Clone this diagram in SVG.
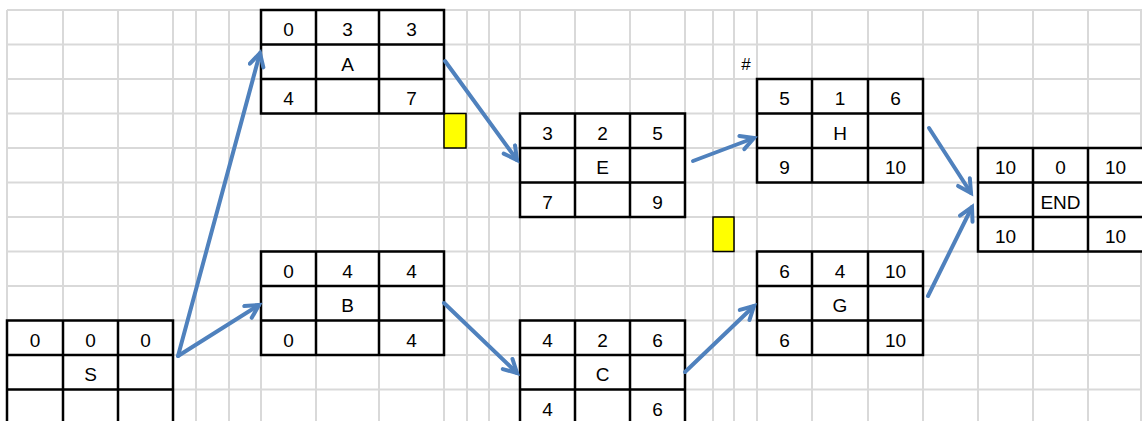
<svg xmlns="http://www.w3.org/2000/svg" width="1142" height="421" viewBox="0 0 1142 421">
<style>
.grid line{stroke:#d9d9d9;stroke-width:2}
.cell{fill:#ffffff;stroke:#000000;stroke-width:2.5}
.div{stroke:#000000;stroke-width:2.5;fill:none}
.t{font-family:"Liberation Sans",Arial,sans-serif;font-size:19px;fill:#000000;text-anchor:middle}
.hl{fill:#ffff00;stroke:#000000;stroke-width:1.5}
.arrow{stroke:#4f81bd;stroke-width:4;fill:none;stroke-linecap:round;marker-end:url(#ah)}
</style>
<defs>
<marker id="ah" markerUnits="userSpaceOnUse" markerWidth="22" markerHeight="22" refX="16" refY="9" orient="auto">
<path d="M3,2 L16,9 L3,16" fill="none" stroke="#4f81bd" stroke-width="4" stroke-linecap="round" stroke-linejoin="miter"/>
</marker>
</defs>
<rect x="0" y="0" width="1142" height="421" fill="#ffffff"/>
<g id="grid" class="grid">
<line x1="7" y1="10" x2="1142" y2="10"/>
<line x1="7" y1="44.5" x2="1142" y2="44.5"/>
<line x1="7" y1="79" x2="1142" y2="79"/>
<line x1="7" y1="113.5" x2="1142" y2="113.5"/>
<line x1="7" y1="148" x2="1142" y2="148"/>
<line x1="7" y1="182.5" x2="1142" y2="182.5"/>
<line x1="7" y1="217" x2="1142" y2="217"/>
<line x1="7" y1="251.5" x2="1142" y2="251.5"/>
<line x1="7" y1="286" x2="1142" y2="286"/>
<line x1="7" y1="320.5" x2="1142" y2="320.5"/>
<line x1="7" y1="355" x2="1142" y2="355"/>
<line x1="7" y1="389.5" x2="1142" y2="389.5"/>
<line x1="7" y1="10" x2="7" y2="421"/>
<line x1="63" y1="10" x2="63" y2="421"/>
<line x1="118" y1="10" x2="118" y2="421"/>
<line x1="173" y1="10" x2="173" y2="421"/>
<line x1="196" y1="10" x2="196" y2="421"/>
<line x1="229" y1="10" x2="229" y2="421"/>
<line x1="261" y1="10" x2="261" y2="421"/>
<line x1="316" y1="10" x2="316" y2="421"/>
<line x1="379" y1="10" x2="379" y2="421"/>
<line x1="444" y1="10" x2="444" y2="421"/>
<line x1="467" y1="10" x2="467" y2="421"/>
<line x1="489" y1="10" x2="489" y2="421"/>
<line x1="520" y1="10" x2="520" y2="421"/>
<line x1="575" y1="10" x2="575" y2="421"/>
<line x1="630" y1="10" x2="630" y2="421"/>
<line x1="685" y1="10" x2="685" y2="421"/>
<line x1="713" y1="10" x2="713" y2="421"/>
<line x1="734" y1="10" x2="734" y2="421"/>
<line x1="757" y1="10" x2="757" y2="421"/>
<line x1="812" y1="10" x2="812" y2="421"/>
<line x1="868" y1="10" x2="868" y2="421"/>
<line x1="923" y1="10" x2="923" y2="421"/>
<line x1="978" y1="10" x2="978" y2="421"/>
<line x1="1033" y1="10" x2="1033" y2="421"/>
<line x1="1088" y1="10" x2="1088" y2="421"/>
<line x1="1141" y1="10" x2="1141" y2="421"/>
</g>
<g id="highlights">
<rect class="hl" x="444" y="113.5" width="22" height="34.5"/>
<rect class="hl" x="713" y="217" width="21" height="34.5"/>
<text class="t" x="746" y="70" style="font-size:17px">#</text>
</g>
<g id="node-S">
<rect class="cell" x="7" y="320.5" width="166" height="104"/>
<path class="div" d="M63,320.5V424 M118,320.5V424 M7,355H173 M7,389.5H173"/>
<text class="t" x="35" y="346.5">0</text><text class="t" x="90.5" y="346.5">0</text><text class="t" x="145.5" y="346.5">0</text>
<text class="t" x="90.5" y="381">S</text>
</g>
<g id="node-A">
<rect class="cell" x="261" y="10" width="183" height="103.5"/>
<path class="div" d="M316,10V113.5 M379,10V113.5 M261,44.5H444 M261,79H444"/>
<text class="t" x="288.5" y="36">0</text><text class="t" x="347.5" y="36">3</text><text class="t" x="411.5" y="36">3</text>
<text class="t" x="347.5" y="70.5">A</text>
<text class="t" x="288.5" y="105">4</text><text class="t" x="411.5" y="105">7</text>
</g>
<g id="node-B">
<rect class="cell" x="261" y="251.5" width="183" height="103.5"/>
<path class="div" d="M316,251.5V355 M379,251.5V355 M261,286H444 M261,320.5H444"/>
<text class="t" x="288.5" y="277.5">0</text><text class="t" x="347.5" y="277.5">4</text><text class="t" x="411.5" y="277.5">4</text>
<text class="t" x="347.5" y="312">B</text>
<text class="t" x="288.5" y="346.5">0</text><text class="t" x="411.5" y="346.5">4</text>
</g>
<g id="node-E">
<rect class="cell" x="520" y="113.5" width="165" height="103.5"/>
<path class="div" d="M575,113.5V217 M630,113.5V217 M520,148H685 M520,182.5H685"/>
<text class="t" x="547.5" y="139.5">3</text><text class="t" x="602.5" y="139.5">2</text><text class="t" x="657.5" y="139.5">5</text>
<text class="t" x="602.5" y="174">E</text>
<text class="t" x="547.5" y="208.5">7</text><text class="t" x="657.5" y="208.5">9</text>
</g>
<g id="node-C">
<rect class="cell" x="520" y="320.5" width="165" height="104"/>
<path class="div" d="M575,320.5V424 M630,320.5V424 M520,355H685 M520,389.5H685"/>
<text class="t" x="547.5" y="346.5">4</text><text class="t" x="602.5" y="346.5">2</text><text class="t" x="657.5" y="346.5">6</text>
<text class="t" x="602.5" y="381">C</text>
<text class="t" x="547.5" y="415.5">4</text><text class="t" x="657.5" y="415.5">6</text>
</g>
<g id="node-H">
<rect class="cell" x="757" y="79" width="166" height="103.5"/>
<path class="div" d="M812,79V182.5 M868,79V182.5 M757,113.5H923 M757,148H923"/>
<text class="t" x="784.5" y="105">5</text><text class="t" x="840" y="105">1</text><text class="t" x="895.5" y="105">6</text>
<text class="t" x="840" y="139.5">H</text>
<text class="t" x="784.5" y="174">9</text><text class="t" x="895.5" y="174">10</text>
</g>
<g id="node-G">
<rect class="cell" x="757" y="251.5" width="166" height="103.5"/>
<path class="div" d="M812,251.5V355 M868,251.5V355 M757,286H923 M757,320.5H923"/>
<text class="t" x="784.5" y="277.5">6</text><text class="t" x="840" y="277.5">4</text><text class="t" x="895.5" y="277.5">10</text>
<text class="t" x="840" y="312">G</text>
<text class="t" x="784.5" y="346.5">6</text><text class="t" x="895.5" y="346.5">10</text>
</g>
<g id="node-END">
<rect class="cell" x="978" y="148" width="166" height="103.5"/>
<path class="div" d="M1033,148V251.5 M1088,148V251.5 M978,182.5H1144 M978,217H1144"/>
<text class="t" x="1005.5" y="174">10</text><text class="t" x="1060.5" y="174">0</text><text class="t" x="1115.5" y="174">10</text>
<text class="t" x="1060.5" y="208.5">END</text>
<text class="t" x="1005.5" y="243">10</text><text class="t" x="1115.5" y="243">10</text>
</g>
<g id="connectors">
<line class="arrow" x1="178" y1="356" x2="260" y2="53"/>
<line class="arrow" x1="178" y1="356" x2="259" y2="305"/>
<line class="arrow" x1="445" y1="61" x2="517" y2="160"/>
<line class="arrow" x1="444" y1="303" x2="517" y2="373"/>
<line class="arrow" x1="693" y1="161" x2="754" y2="138"/>
<line class="arrow" x1="685" y1="372" x2="754" y2="306"/>
<line class="arrow" x1="929" y1="128" x2="971" y2="193"/>
<line class="arrow" x1="928" y1="296" x2="972" y2="207"/>
</g>
</svg>
